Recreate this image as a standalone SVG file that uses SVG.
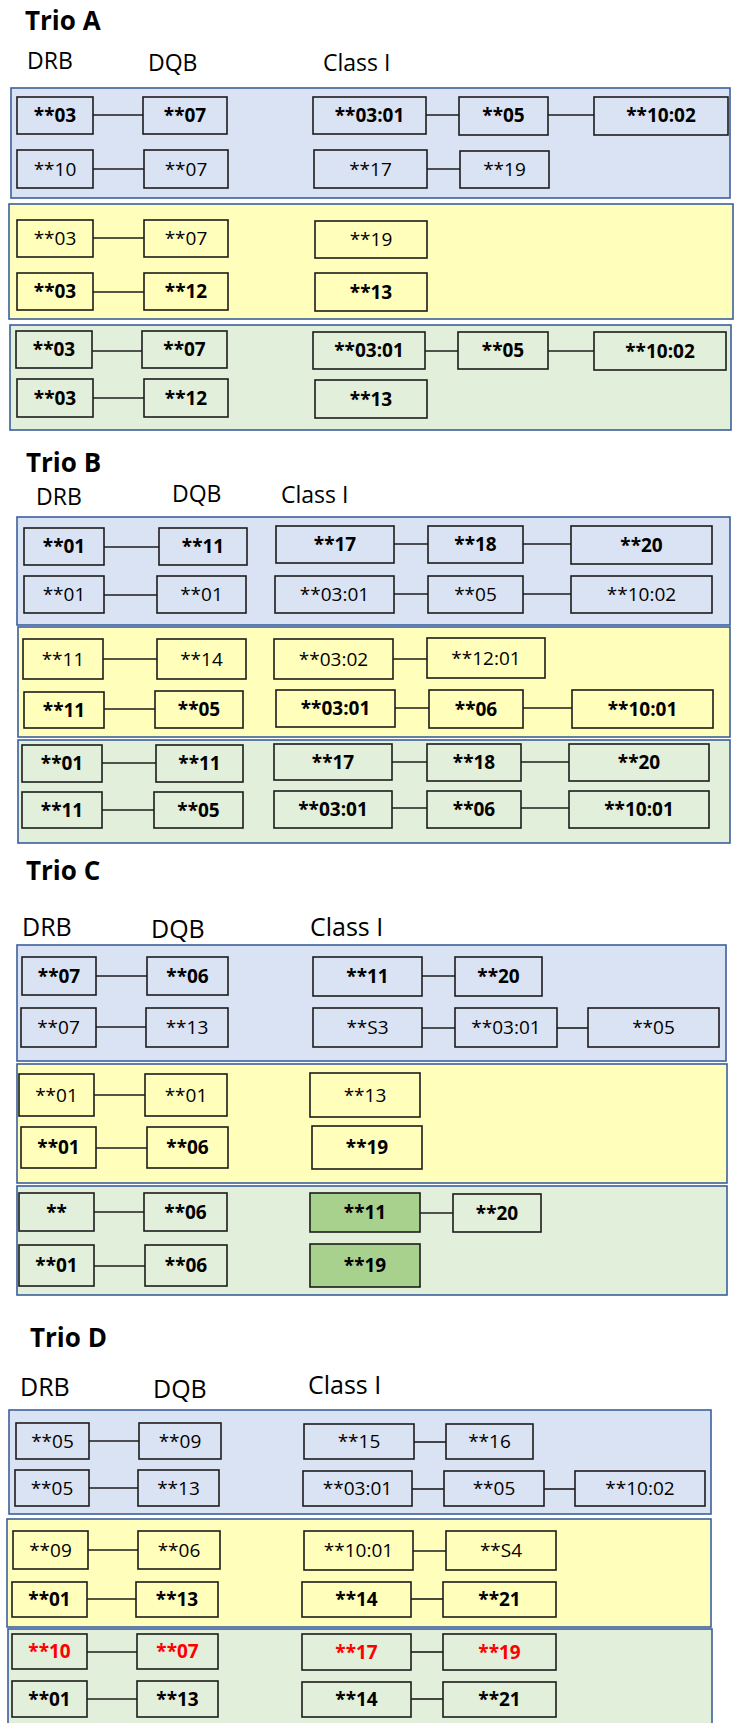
<svg xmlns="http://www.w3.org/2000/svg" width="734" height="1723" viewBox="0 0 734 1723">
<style>
text{font-family:"Open Sans","Liberation Sans",sans-serif;fill:#000}
.ttl{font-size:26px;font-weight:700}
.hd{font-size:23px}
.hd2{font-size:25px}
.n text{font-size:19px;text-anchor:middle}
.n.b text{font-weight:700}
.n.r text{fill:#ff0000}
.n rect{stroke:#1c1c1c;stroke-width:1.6}
.pb,.n.cb rect{fill:#dae3f3}
.py,.n.cy rect{fill:#ffffbb}
.pg,.n.cg rect{fill:#e2efda}
.n.dg rect{fill:#a9d18e}
.pb,.py,.pg{stroke:#3b5f9c;stroke-width:1.6}
#connectors line{stroke:#1c1c1c;stroke-width:1.6}
</style>
<rect width="734" height="1723" fill="#fff"/>

<!-- Trio A -->
<text class="ttl" x="25" y="30">Trio A</text>
<text class="hd" x="27" y="69">DRB</text>
<text class="hd" x="148" y="71">DQB</text>
<text class="hd" x="323" y="71">Class I</text>
<rect class="pb" x="11" y="88" width="719" height="110"/>
<rect class="py" x="9" y="204" width="724" height="115"/>
<rect class="pg" x="10" y="325" width="721" height="105"/>

<!-- Trio B -->
<text class="ttl" x="26" y="472">Trio B</text>
<text class="hd" x="36" y="505">DRB</text>
<text class="hd" x="172" y="502">DQB</text>
<text class="hd" x="281" y="503">Class I</text>
<rect class="pb" x="17" y="517" width="713" height="108"/>
<rect class="py" x="18" y="627" width="712" height="110"/>
<rect class="pg" x="18" y="740" width="712" height="103"/>

<!-- Trio C -->
<text class="ttl" x="26" y="880">Trio C</text>
<text class="hd2" x="22" y="936">DRB</text>
<text class="hd2" x="151" y="938">DQB</text>
<text class="hd2" x="310" y="936">Class I</text>
<rect class="pb" x="17" y="945" width="709" height="116"/>
<rect class="py" x="17" y="1064" width="710" height="119"/>
<rect class="pg" x="17" y="1186" width="710" height="109"/>

<!-- Trio D -->
<text class="ttl" x="30" y="1347">Trio D</text>
<text class="hd2" x="20" y="1396">DRB</text>
<text class="hd2" x="153" y="1398">DQB</text>
<text class="hd2" x="308" y="1394">Class I</text>
<rect class="pb" x="9" y="1410" width="702" height="104"/>
<rect class="py" x="7" y="1519" width="704" height="108"/>
<rect class="pg" x="8" y="1629" width="704" height="100"/>

<g id="connectors">
<line x1="93" y1="115" x2="143" y2="115"/><line x1="426" y1="115" x2="459" y2="115"/><line x1="548" y1="115" x2="594" y2="115"/>
<line x1="93" y1="169" x2="144" y2="169"/><line x1="427" y1="169" x2="460" y2="169"/>
<line x1="93" y1="238" x2="144" y2="238"/>
<line x1="93" y1="292" x2="144" y2="292"/>
<line x1="92" y1="351" x2="142" y2="351"/><line x1="425" y1="351" x2="458" y2="351"/><line x1="548" y1="351" x2="594" y2="351"/>
<line x1="93" y1="398" x2="144" y2="398"/>

<line x1="104" y1="547" x2="159" y2="547"/><line x1="394" y1="544" x2="428" y2="544"/><line x1="523" y1="544" x2="571" y2="544"/>
<line x1="104" y1="595" x2="157" y2="595"/><line x1="394" y1="594" x2="428" y2="594"/><line x1="523" y1="594" x2="571" y2="594"/>
<line x1="103" y1="659" x2="157" y2="659"/><line x1="393" y1="659" x2="427" y2="659"/>
<line x1="104" y1="709" x2="155" y2="709"/><line x1="395" y1="708" x2="429" y2="708"/><line x1="523" y1="708" x2="572" y2="708"/>
<line x1="102" y1="763" x2="156" y2="763"/><line x1="392" y1="762" x2="427" y2="762"/><line x1="521" y1="762" x2="569" y2="762"/>
<line x1="102" y1="810" x2="154" y2="810"/><line x1="392" y1="808" x2="427" y2="808"/><line x1="521" y1="808" x2="569" y2="808"/>

<line x1="96" y1="976" x2="147" y2="976"/><line x1="422" y1="976" x2="455" y2="976"/>
<line x1="96" y1="1027" x2="146" y2="1027"/><line x1="422" y1="1028" x2="455" y2="1028"/><line x1="557" y1="1028" x2="588" y2="1028"/>
<line x1="94" y1="1095" x2="145" y2="1095"/>
<line x1="96" y1="1148" x2="147" y2="1148"/>
<line x1="94" y1="1212" x2="144" y2="1212"/><line x1="420" y1="1213" x2="453" y2="1213"/>
<line x1="94" y1="1266" x2="145" y2="1266"/>

<line x1="89" y1="1441" x2="139" y2="1441"/><line x1="414" y1="1442" x2="446" y2="1442"/>
<line x1="89" y1="1488" x2="138" y2="1488"/><line x1="412" y1="1489" x2="444" y2="1489"/><line x1="544" y1="1489" x2="575" y2="1489"/>
<line x1="88" y1="1550" x2="138" y2="1550"/><line x1="413" y1="1551" x2="446" y2="1551"/>
<line x1="87" y1="1599" x2="136" y2="1599"/><line x1="411" y1="1599" x2="443" y2="1599"/>
<line x1="87" y1="1652" x2="137" y2="1652"/><line x1="411" y1="1652" x2="443" y2="1652"/>
<line x1="87" y1="1699" x2="137" y2="1699"/><line x1="411" y1="1699" x2="443" y2="1699"/>
</g>

<!-- Trio A nodes -->
<g id="a-b1-drb" class="n cb b"><rect x="17" y="97" width="76" height="37"/><text x="55" y="122">**03</text></g>
<g id="a-b1-dqb" class="n cb b"><rect x="143" y="97" width="84" height="37"/><text x="185" y="122">**07</text></g>
<g id="a-b1-c1" class="n cb b"><rect x="313" y="97" width="113" height="37"/><text x="369.5" y="122">**03:01</text></g>
<g id="a-b1-c2" class="n cb b"><rect x="459" y="97" width="89" height="38"/><text x="503.5" y="122">**05</text></g>
<g id="a-b1-c3" class="n cb b"><rect x="594" y="97" width="134" height="38"/><text x="661" y="122">**10:02</text></g>
<g id="a-b2-drb" class="n cb"><rect x="17" y="150" width="76" height="38"/><text x="55" y="175.5">**10</text></g>
<g id="a-b2-dqb" class="n cb"><rect x="144" y="150" width="84" height="38"/><text x="186" y="175.5">**07</text></g>
<g id="a-b2-c1" class="n cb"><rect x="314" y="150" width="113" height="38"/><text x="370.5" y="175.5">**17</text></g>
<g id="a-b2-c2" class="n cb"><rect x="460" y="151" width="89" height="37"/><text x="504.5" y="176">**19</text></g>

<g id="a-y1-drb" class="n cy"><rect x="17" y="220" width="76" height="37"/><text x="55" y="245">**03</text></g>
<g id="a-y1-dqb" class="n cy"><rect x="144" y="220" width="84" height="37"/><text x="186" y="245">**07</text></g>
<g id="a-y1-c1" class="n cy"><rect x="315" y="221" width="112" height="37"/><text x="371" y="246">**19</text></g>
<g id="a-y2-drb" class="n cy b"><rect x="17" y="273" width="76" height="37"/><text x="55" y="298">**03</text></g>
<g id="a-y2-dqb" class="n cy b"><rect x="144" y="273" width="84" height="37"/><text x="186" y="298">**12</text></g>
<g id="a-y2-c1" class="n cy b"><rect x="315" y="273" width="112" height="38"/><text x="371" y="298.5">**13</text></g>

<g id="a-g1-drb" class="n cg b"><rect x="16" y="331" width="76" height="37"/><text x="54" y="356">**03</text></g>
<g id="a-g1-dqb" class="n cg b"><rect x="142" y="331" width="85" height="37"/><text x="184.5" y="356">**07</text></g>
<g id="a-g1-c1" class="n cg b"><rect x="313" y="332" width="112" height="37"/><text x="369" y="357">**03:01</text></g>
<g id="a-g1-c2" class="n cg b"><rect x="458" y="332" width="90" height="37"/><text x="503" y="357">**05</text></g>
<g id="a-g1-c3" class="n cg b"><rect x="594" y="332" width="132" height="38"/><text x="660" y="357.5">**10:02</text></g>
<g id="a-g2-drb" class="n cg b"><rect x="17" y="379" width="76" height="38"/><text x="55" y="404.5">**03</text></g>
<g id="a-g2-dqb" class="n cg b"><rect x="144" y="379" width="84" height="38"/><text x="186" y="404.5">**12</text></g>
<g id="a-g2-c1" class="n cg b"><rect x="315" y="380" width="112" height="38"/><text x="371" y="405.5">**13</text></g>

<!-- Trio B nodes -->
<g id="b-b1-drb" class="n cb b"><rect x="24" y="528" width="80" height="37"/><text x="64" y="553">**01</text></g>
<g id="b-b1-dqb" class="n cb b"><rect x="159" y="528" width="88" height="37"/><text x="203" y="553">**11</text></g>
<g id="b-b1-c1" class="n cb b"><rect x="276" y="526" width="118" height="37"/><text x="335" y="551">**17</text></g>
<g id="b-b1-c2" class="n cb b"><rect x="428" y="526" width="95" height="37"/><text x="475.5" y="551">**18</text></g>
<g id="b-b1-c3" class="n cb b"><rect x="571" y="526" width="141" height="38"/><text x="641.5" y="551.5">**20</text></g>
<g id="b-b2-drb" class="n cb"><rect x="24" y="576" width="80" height="37"/><text x="64" y="601">**01</text></g>
<g id="b-b2-dqb" class="n cb"><rect x="157" y="576" width="89" height="37"/><text x="201.5" y="601">**01</text></g>
<g id="b-b2-c1" class="n cb"><rect x="275" y="576" width="119" height="37"/><text x="334.5" y="601">**03:01</text></g>
<g id="b-b2-c2" class="n cb"><rect x="428" y="576" width="95" height="37"/><text x="475.5" y="601">**05</text></g>
<g id="b-b2-c3" class="n cb"><rect x="571" y="576" width="141" height="37"/><text x="641.5" y="601">**10:02</text></g>

<g id="b-y1-drb" class="n cy"><rect x="23" y="639" width="80" height="40"/><text x="63" y="665.5">**11</text></g>
<g id="b-y1-dqb" class="n cy"><rect x="157" y="639" width="89" height="40"/><text x="201.5" y="665.5">**14</text></g>
<g id="b-y1-c1" class="n cy"><rect x="274" y="639" width="119" height="40"/><text x="333.5" y="665.5">**03:02</text></g>
<g id="b-y1-c2" class="n cy"><rect x="427" y="638" width="118" height="40"/><text x="486" y="664.5">**12:01</text></g>
<g id="b-y2-drb" class="n cy b"><rect x="24" y="692" width="80" height="36"/><text x="64" y="716.5">**11</text></g>
<g id="b-y2-dqb" class="n cy b"><rect x="155" y="691" width="88" height="37"/><text x="199" y="716">**05</text></g>
<g id="b-y2-c1" class="n cy b"><rect x="276" y="690" width="119" height="37"/><text x="335.5" y="715">**03:01</text></g>
<g id="b-y2-c2" class="n cy b"><rect x="429" y="690" width="94" height="38"/><text x="476" y="715.5">**06</text></g>
<g id="b-y2-c3" class="n cy b"><rect x="572" y="690" width="141" height="38"/><text x="642.5" y="715.5">**10:01</text></g>

<g id="b-g1-drb" class="n cg b"><rect x="22" y="745" width="80" height="37"/><text x="62" y="770">**01</text></g>
<g id="b-g1-dqb" class="n cg b"><rect x="156" y="745" width="87" height="37"/><text x="199.5" y="770">**11</text></g>
<g id="b-g1-c1" class="n cg b"><rect x="274" y="744" width="118" height="36"/><text x="333" y="768.5">**17</text></g>
<g id="b-g1-c2" class="n cg b"><rect x="427" y="744" width="94" height="37"/><text x="474" y="769">**18</text></g>
<g id="b-g1-c3" class="n cg b"><rect x="569" y="744" width="140" height="37"/><text x="639" y="769">**20</text></g>
<g id="b-g2-drb" class="n cg b"><rect x="22" y="792" width="80" height="36"/><text x="62" y="816.5">**11</text></g>
<g id="b-g2-dqb" class="n cg b"><rect x="154" y="792" width="89" height="36"/><text x="198.5" y="816.5">**05</text></g>
<g id="b-g2-c1" class="n cg b"><rect x="274" y="791" width="118" height="37"/><text x="333" y="816">**03:01</text></g>
<g id="b-g2-c2" class="n cg b"><rect x="427" y="791" width="94" height="37"/><text x="474" y="816">**06</text></g>
<g id="b-g2-c3" class="n cg b"><rect x="569" y="791" width="140" height="37"/><text x="639" y="816">**10:01</text></g>

<!-- Trio C nodes -->
<g id="c-b1-drb" class="n cb b"><rect x="22" y="957" width="74" height="38"/><text x="59" y="982.5">**07</text></g>
<g id="c-b1-dqb" class="n cb b"><rect x="147" y="957" width="81" height="38"/><text x="187.5" y="982.5">**06</text></g>
<g id="c-b1-c1" class="n cb b"><rect x="313" y="957" width="109" height="39"/><text x="367.5" y="983">**11</text></g>
<g id="c-b1-c2" class="n cb b"><rect x="455" y="957" width="87" height="39"/><text x="498.5" y="983">**20</text></g>
<g id="c-b2-drb" class="n cb"><rect x="21" y="1008" width="75" height="39"/><text x="58.5" y="1034">**07</text></g>
<g id="c-b2-dqb" class="n cb"><rect x="146" y="1008" width="82" height="39"/><text x="187" y="1034">**13</text></g>
<g id="c-b2-c1" class="n cb"><rect x="313" y="1008" width="109" height="39"/><text x="367.5" y="1034">**S3</text></g>
<g id="c-b2-c2" class="n cb"><rect x="455" y="1008" width="102" height="39"/><text x="506" y="1034">**03:01</text></g>
<g id="c-b2-c3" class="n cb"><rect x="588" y="1008" width="131" height="39"/><text x="653.5" y="1034">**05</text></g>

<g id="c-y1-drb" class="n cy"><rect x="19" y="1074" width="75" height="42"/><text x="56.5" y="1101.5">**01</text></g>
<g id="c-y1-dqb" class="n cy"><rect x="145" y="1074" width="82" height="42"/><text x="186" y="1101.5">**01</text></g>
<g id="c-y1-c1" class="n cy"><rect x="310" y="1073" width="110" height="44"/><text x="365" y="1101.5">**13</text></g>
<g id="c-y2-drb" class="n cy b"><rect x="21" y="1127" width="75" height="41"/><text x="58.5" y="1154">**01</text></g>
<g id="c-y2-dqb" class="n cy b"><rect x="147" y="1127" width="81" height="41"/><text x="187.5" y="1154">**06</text></g>
<g id="c-y2-c1" class="n cy b"><rect x="312" y="1126" width="110" height="43"/><text x="367" y="1154">**19</text></g>

<g id="c-g1-drb" class="n cg b"><rect x="19" y="1193" width="75" height="38"/><text x="56.5" y="1218.5">**</text></g>
<g id="c-g1-dqb" class="n cg b"><rect x="144" y="1193" width="83" height="38"/><text x="185.5" y="1218.5">**06</text></g>
<g id="c-g1-c1" class="n dg b"><rect x="310" y="1193" width="110" height="39"/><text x="365" y="1219">**11</text></g>
<g id="c-g1-c2" class="n cg b"><rect x="453" y="1194" width="88" height="38"/><text x="497" y="1219.5">**20</text></g>
<g id="c-g2-drb" class="n cg b"><rect x="19" y="1245" width="75" height="41"/><text x="56.5" y="1272">**01</text></g>
<g id="c-g2-dqb" class="n cg b"><rect x="145" y="1245" width="82" height="41"/><text x="186" y="1272">**06</text></g>
<g id="c-g2-c1" class="n dg b"><rect x="310" y="1244" width="110" height="43"/><text x="365" y="1272">**19</text></g>

<!-- Trio D nodes -->
<g id="d-b1-drb" class="n cb"><rect x="16" y="1423" width="73" height="36"/><text x="52.5" y="1447.5">**05</text></g>
<g id="d-b1-dqb" class="n cb"><rect x="139" y="1423" width="82" height="36"/><text x="180" y="1447.5">**09</text></g>
<g id="d-b1-c1" class="n cb"><rect x="304" y="1424" width="110" height="35"/><text x="359" y="1448">**15</text></g>
<g id="d-b1-c2" class="n cb"><rect x="446" y="1424" width="87" height="35"/><text x="489.5" y="1448">**16</text></g>
<g id="d-b2-drb" class="n cb"><rect x="15" y="1470" width="74" height="36"/><text x="52" y="1494.5">**05</text></g>
<g id="d-b2-dqb" class="n cb"><rect x="138" y="1470" width="81" height="36"/><text x="178.5" y="1494.5">**13</text></g>
<g id="d-b2-c1" class="n cb"><rect x="303" y="1471" width="109" height="35"/><text x="357.5" y="1495">**03:01</text></g>
<g id="d-b2-c2" class="n cb"><rect x="444" y="1471" width="100" height="35"/><text x="494" y="1495">**05</text></g>
<g id="d-b2-c3" class="n cb"><rect x="575" y="1471" width="130" height="35"/><text x="640" y="1495">**10:02</text></g>

<g id="d-y1-drb" class="n cy"><rect x="13" y="1531" width="75" height="38"/><text x="50.5" y="1556.5">**09</text></g>
<g id="d-y1-dqb" class="n cy"><rect x="138" y="1531" width="82" height="38"/><text x="179" y="1556.5">**06</text></g>
<g id="d-y1-c1" class="n cy"><rect x="304" y="1531" width="109" height="39"/><text x="358.5" y="1557">**10:01</text></g>
<g id="d-y1-c2" class="n cy"><rect x="446" y="1531" width="110" height="39"/><text x="501" y="1557">**S4</text></g>
<g id="d-y2-drb" class="n cy b"><rect x="12" y="1582" width="75" height="35"/><text x="49.5" y="1606">**01</text></g>
<g id="d-y2-dqb" class="n cy b"><rect x="136" y="1582" width="82" height="35"/><text x="177" y="1606">**13</text></g>
<g id="d-y2-c1" class="n cy b"><rect x="302" y="1582" width="109" height="35"/><text x="356.5" y="1606">**14</text></g>
<g id="d-y2-c2" class="n cy b"><rect x="443" y="1582" width="113" height="35"/><text x="499.5" y="1606">**21</text></g>

<g id="d-g1-drb" class="n cg b r"><rect x="12" y="1634" width="75" height="35"/><text x="49.5" y="1658">**10</text></g>
<g id="d-g1-dqb" class="n cg b r"><rect x="137" y="1634" width="81" height="35"/><text x="177.5" y="1658">**07</text></g>
<g id="d-g1-c1" class="n cg b r"><rect x="302" y="1634" width="109" height="36"/><text x="356.5" y="1658.5">**17</text></g>
<g id="d-g1-c2" class="n cg b r"><rect x="443" y="1634" width="113" height="36"/><text x="499.5" y="1658.5">**19</text></g>
<g id="d-g2-drb" class="n cg b"><rect x="12" y="1681" width="75" height="36"/><text x="49.5" y="1705.5">**01</text></g>
<g id="d-g2-dqb" class="n cg b"><rect x="137" y="1681" width="81" height="36"/><text x="177.5" y="1705.5">**13</text></g>
<g id="d-g2-c1" class="n cg b"><rect x="302" y="1682" width="109" height="35"/><text x="356.5" y="1706">**14</text></g>
<g id="d-g2-c2" class="n cg b"><rect x="443" y="1682" width="113" height="35"/><text x="499.5" y="1706">**21</text></g>
</svg>
